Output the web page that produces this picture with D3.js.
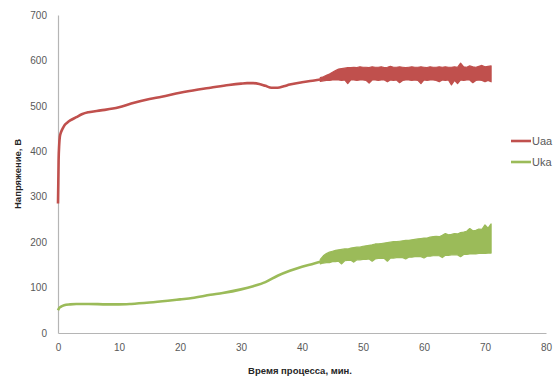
<!DOCTYPE html>
<html><head><meta charset="utf-8">
<script src="https://cdn.jsdelivr.net/npm/d3@7"></script>
<style>
html,body{margin:0;padding:0;background:#fff;}
svg{display:block;font-family:"Liberation Sans",Arial,sans-serif;}
</style></head>
<body><svg id="c" width="556" height="383"></svg>
<script>
// ---- Data ----
const xTicks = [0,10,20,30,40,50,60,70,80];
const yTicks = [0,100,200,300,400,500,600,700];
const seriesNames = ["Uaa","Uka"];

// smooth part of Uaa
const redT = [0,0.05,0.1,0.2,0.3,0.5,0.8,1.1,1.5,2,3,4,5,7,9,10,12,15,17,20,23,25,28,30,31,32,33,34,35,36,37,38,40,42,43];
const redV = [285,330,380,415,432,442,451,458,463,468,475,482,486,490,494,497,505,515,520,529,536,540,546,549,550,550,548,544,540,540,543,547,552,556,558];

// smooth part of Uka
const greenT = [0,0.2,0.5,1,2,3,5,8,10,12,15,18,20,22,25,27,30,32,34,36,38,40,42,43];
const greenV = [50,55,58,61,63,64,64,63,63,64,67,71,74,77,84,88,96,103,112,126,137,146,153,157];

// noisy part (43 .. 71 min): upper and lower envelope of the scatter
const noiseT = [43,43.5,44,44.5,45,45.5,46,46.5,47,47.5,48,48.5,49,49.5,50,50.5,51,51.5,52,52.5,53,53.5,54,54.5,55,55.5,56,56.5,57,57.5,58,58.5,59,59.5,60,60.5,61,61.5,62,62.5,63,63.5,64,64.5,65,65.5,66,66.5,67,67.5,68,68.5,69,69.5,70,70.5,71];
const redHi = [562,564,567,570,574,578,581,582,583,584,584,585,584,586,585,585,584,586,585,585,586,584,585,587,585,585,586,585,584,585,586,585,585,586,585,584,586,585,585,586,585,586,585,585,586,585,594,586,585,588,586,585,587,589,586,587,588];
const redLo = [554,555,556,556,557,557,557,556,557,549,557,557,556,557,557,556,550,557,557,556,557,557,553,557,556,557,551,556,557,557,556,557,556,549,557,556,557,557,556,553,557,556,557,546,556,549,557,556,557,557,551,556,557,556,553,556,553];
const greenHi = [162,170,175,178,180,182,183,184,185,185,187,188,189,189,191,192,193,194,196,196,197,198,199,200,201,201,202,203,204,204,205,206,207,208,209,209,211,212,213,212,215,219,216,217,219,218,221,222,224,230,225,226,229,228,238,231,240];
const greenLo = [152,154,155,155,157,157,158,152,159,160,160,156,161,161,162,162,163,158,163,164,164,164,158,165,165,166,166,166,163,167,167,168,168,168,165,169,169,170,170,170,166,171,171,172,172,172,168,173,173,174,174,174,175,175,175,176,176];

const colors = ["#C0504D","#9BBB59"];

// ---- Chart ----
const svg = d3.select("#c");
const x = d3.scaleLinear().domain([0,80]).range([58,546]);
const y = d3.scaleLinear().domain([0,700]).range([333,15]);

const axisColor = "#b5b5b5";
const labelColor = "#595959";

const xAxis = svg.append("g").attr("transform","translate(0,333)")
  .call(d3.axisBottom(x).tickValues(xTicks).tickSize(0).tickPadding(11));
const yAxis = svg.append("g").attr("transform","translate(58,0)")
  .call(d3.axisLeft(y).tickValues(yTicks).tickSize(0).tickPadding(11));
[xAxis,yAxis].forEach(g=>{
  g.select(".domain").attr("stroke",axisColor).attr("stroke-width",1.2);
  g.selectAll("text").attr("fill",labelColor).attr("font-size","10px")
   .attr("font-family",'"Liberation Sans",Arial,sans-serif');
});

// noisy bands
const band = (hi,lo) => d3.area()
  .x((d,i)=>x(noiseT[i])).y0((d,i)=>y(lo[i])).y1((d,i)=>y(hi[i]))(noiseT);
svg.append("path").attr("d",band(redHi,redLo)).attr("fill",colors[0])
  .attr("stroke",colors[0]).attr("stroke-width",1.2).attr("stroke-linejoin","round");
svg.append("path").attr("d",band(greenHi,greenLo)).attr("fill",colors[1])
  .attr("stroke",colors[1]).attr("stroke-width",1.2).attr("stroke-linejoin","round");

// smooth lines
const line = (T,V) => d3.line().x((d,i)=>x(T[i])).y((d,i)=>y(V[i])).curve(d3.curveMonotoneX)(T);
svg.append("path").attr("d",line(redT,redV)).attr("fill","none")
  .attr("stroke",colors[0]).attr("stroke-width",2.6);
svg.append("path").attr("d",line(greenT,greenV)).attr("fill","none")
  .attr("stroke",colors[1]).attr("stroke-width",2.6);

// legend
const leg = svg.append("g");
seriesNames.forEach((n,i)=>{
  const yy = 141 + i*21;
  leg.append("line").attr("x1",511).attr("x2",531).attr("y1",yy).attr("y2",yy)
    .attr("stroke",colors[i]).attr("stroke-width",2.6);
  leg.append("text").attr("x",532).attr("y",yy+4).attr("font-size","11px")
    .attr("fill",labelColor).text(n);
});

// titles
svg.append("text").attr("x",300).attr("y",374).attr("text-anchor","middle")
  .attr("font-size","9.5px").attr("font-weight","bold").attr("fill","#262626")
  .text("Время процесса, мин.");
svg.append("text").attr("transform","translate(21,174) rotate(-90)")
  .attr("text-anchor","middle").attr("font-size","9.5px").attr("font-weight","bold")
  .attr("fill","#262626").text("Напряжение, В");
</script></body></html>
